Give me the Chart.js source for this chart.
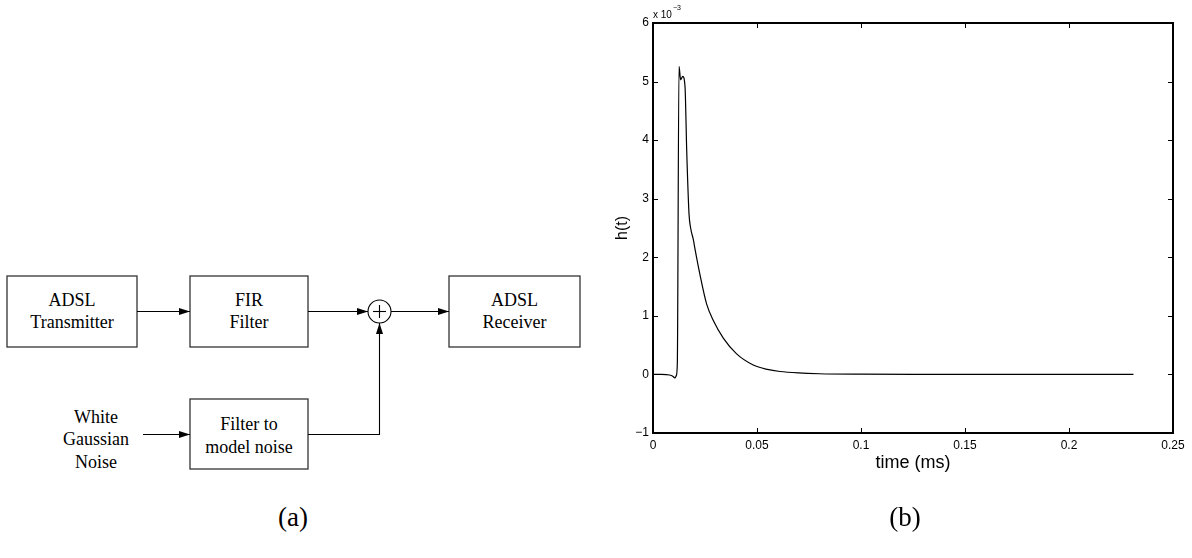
<!DOCTYPE html>
<html>
<head>
<meta charset="utf-8">
<script src="https://cdn.jsdelivr.net/npm/chart.js@4.4.1/dist/chart.umd.min.js"></script>
<style>
  html, body { margin: 0; padding: 0; background: #fff; }
  #page { position: relative; width: 1192px; height: 558px; overflow: hidden; }
  #diagram { position: absolute; left: 0; top: 0; }
  #plot { position: absolute; left: 590px; top: 0; width: 602px; height: 558px; }
  .cap { position: absolute; font-family: "Liberation Serif", serif; font-size: 27px; transform: translateX(-50%); }
</style>
</head>
<body>
<div id="page">
  <svg id="diagram" width="590" height="558" font-family="Liberation Serif, serif" font-size="18" text-anchor="middle">
    <defs>
      <marker id="head" markerWidth="11" markerHeight="7" refX="11" refY="3.5" orient="auto" markerUnits="userSpaceOnUse">
        <path d="M0,0 L11,3.5 L0,7 z" fill="#000"/>
      </marker>
    </defs>
    <g fill="none" stroke="#333" stroke-width="1.3">
      <rect x="7" y="276" width="130" height="71"/>
      <rect x="190" y="276" width="118" height="71"/>
      <rect x="449" y="276" width="131" height="71"/>
      <rect x="190" y="399" width="118" height="70"/>
    </g>
    <g fill="none" stroke="#000" stroke-width="1.1">
      <line x1="137" y1="311.5" x2="190" y2="311.5" marker-end="url(#head)"/>
      <line x1="308" y1="311.5" x2="368" y2="311.5" marker-end="url(#head)"/>
      <line x1="391" y1="311.5" x2="449" y2="311.5" marker-end="url(#head)"/>
      <line x1="143" y1="434.5" x2="190" y2="434.5" marker-end="url(#head)"/>
      <polyline points="308,434.5 379.5,434.5 379.5,323" marker-end="url(#head)"/>
      <circle cx="379.5" cy="311.5" r="11.5"/>
      <line x1="373" y1="311.5" x2="386" y2="311.5"/>
      <line x1="379.5" y1="305" x2="379.5" y2="318"/>
    </g>
    <g fill="#000">
      <text x="72" y="306">ADSL</text>
      <text x="72" y="328">Transmitter</text>
      <text x="249" y="306">FIR</text>
      <text x="249" y="328">Filter</text>
      <text x="514.5" y="306">ADSL</text>
      <text x="514.5" y="328">Receiver</text>
      <text x="249" y="430">Filter to</text>
      <text x="249" y="453">model noise</text>
      <text x="96" y="423">White</text>
      <text x="96" y="445">Gaussian</text>
      <text x="96" y="468">Noise</text>
    </g>
  </svg>
  <div id="plot"><canvas id="chart"></canvas></div>
  <div class="cap" style="left:293px; top:502px;">(a)</div>
  <div class="cap" style="left:905px; top:502px;">(b)</div>
</div>
<script>
// impulse response; h values in units of 10^-3
const timeMs = [0, 0.004, 0.008, 0.0095, 0.0105, 0.0112, 0.0117, 0.0125, 0.0133, 0.0143, 0.0154,
  0.0162, 0.0173, 0.0181, 0.0194, 0.0202, 0.0226, 0.0258, 0.029, 0.0338, 0.0402, 0.0482,
  0.055, 0.061, 0.07, 0.08, 0.1, 0.13, 0.17, 0.231];
const hValues = [0, 0, -0.01, -0.03, -0.06, -0.02, 0.2, 5.26, 5.03, 5.09, 4.91,
  3.83, 2.75, 2.5, 2.3, 2.14, 1.7, 1.2, 0.92, 0.62, 0.35, 0.16,
  0.085, 0.05, 0.025, 0.012, 0.004, 0.001, 0, 0];

const xTicks = [0, 0.05, 0.1, 0.15, 0.2, 0.25];
const yTicks = [-1, 0, 1, 2, 3, 4, 5, 6];

const fontSans = '"Liberation Sans", Arial, sans-serif';

// matlab style box with inward ticks and the exponent note
const framePlugin = {
  id: 'frame',
  afterDatasetsDraw(chart) {
    const { ctx, chartArea: a, scales: { x, y } } = chart;
    ctx.save();
    ctx.strokeStyle = '#000';
    ctx.lineWidth = 1;
    ctx.beginPath();
    xTicks.forEach(v => {
      const px = Math.round(x.getPixelForValue(v)) + 0.5;
      ctx.moveTo(px, a.bottom); ctx.lineTo(px, a.bottom - 5);
      ctx.moveTo(px, a.top); ctx.lineTo(px, a.top + 5);
    });
    yTicks.forEach(v => {
      const py = Math.round(y.getPixelForValue(v)) + 0.5;
      ctx.moveTo(a.left, py); ctx.lineTo(a.left + 5, py);
      ctx.moveTo(a.right, py); ctx.lineTo(a.right - 5, py);
    });
    ctx.stroke();
    ctx.lineWidth = 2;
    ctx.strokeRect(a.left, a.top, a.right - a.left, a.bottom - a.top);

    ctx.fillStyle = '#000';
    ctx.textBaseline = 'alphabetic';
    ctx.font = '10px ' + fontSans;
    ctx.fillText('x 10', a.left, a.top - 5);
    const w = ctx.measureText('x 10').width;
    ctx.font = '7px ' + fontSans;
    ctx.fillText('\u22123', a.left + w + 1, a.top - 13);
    ctx.restore();
  }
};

new Chart(document.getElementById('chart'), {
  type: 'line',
  data: {
    datasets: [{
      data: timeMs.map((t, i) => ({ x: t, y: hValues[i] })),
      borderColor: '#000',
      borderWidth: 1.2,
      pointRadius: 0,
      cubicInterpolationMode: 'monotone',
      fill: false
    }]
  },
  options: {
    responsive: true,
    maintainAspectRatio: false,
    devicePixelRatio: 1,
    animation: false,
    layout: { padding: { top: 23, right: 19, left: 0, bottom: 84 } },
    plugins: { legend: { display: false }, tooltip: { enabled: false } },
    scales: {
      x: {
        type: 'linear',
        min: 0,
        max: 0.25,
        grid: { display: false, drawTicks: false },
        border: { display: false },
        afterBuildTicks: s => { s.ticks = xTicks.map(v => ({ value: v })); },
        afterFit: s => { s.height = 41; },
        ticks: {
          color: '#000',
          padding: 5,
          maxRotation: 0,
          font: { family: fontSans, size: 12 },
          callback: v => String(v)
        },
        title: {
          display: true,
          text: 'time (ms)',
          color: '#000',
          padding: 0,
          font: { family: fontSans, size: 18 }
        }
      },
      y: {
        min: -1,
        max: 6,
        grid: { display: false, drawTicks: false },
        border: { display: false },
        afterBuildTicks: s => { s.ticks = yTicks.map(v => ({ value: v })); },
        afterFit: s => { s.width = 63; },
        ticks: {
          color: '#000',
          padding: 4,
          font: { family: fontSans, size: 12 },
          callback: v => (v < 0 ? '\u2212' + Math.abs(v) : String(v))
        },
        title: {
          display: true,
          text: 'h(t)',
          color: '#000',
          padding: { top: 23, bottom: 0 },
          font: { family: fontSans, size: 16 }
        }
      }
    }
  },
  plugins: [framePlugin]
});
</script>
</body>
</html>
